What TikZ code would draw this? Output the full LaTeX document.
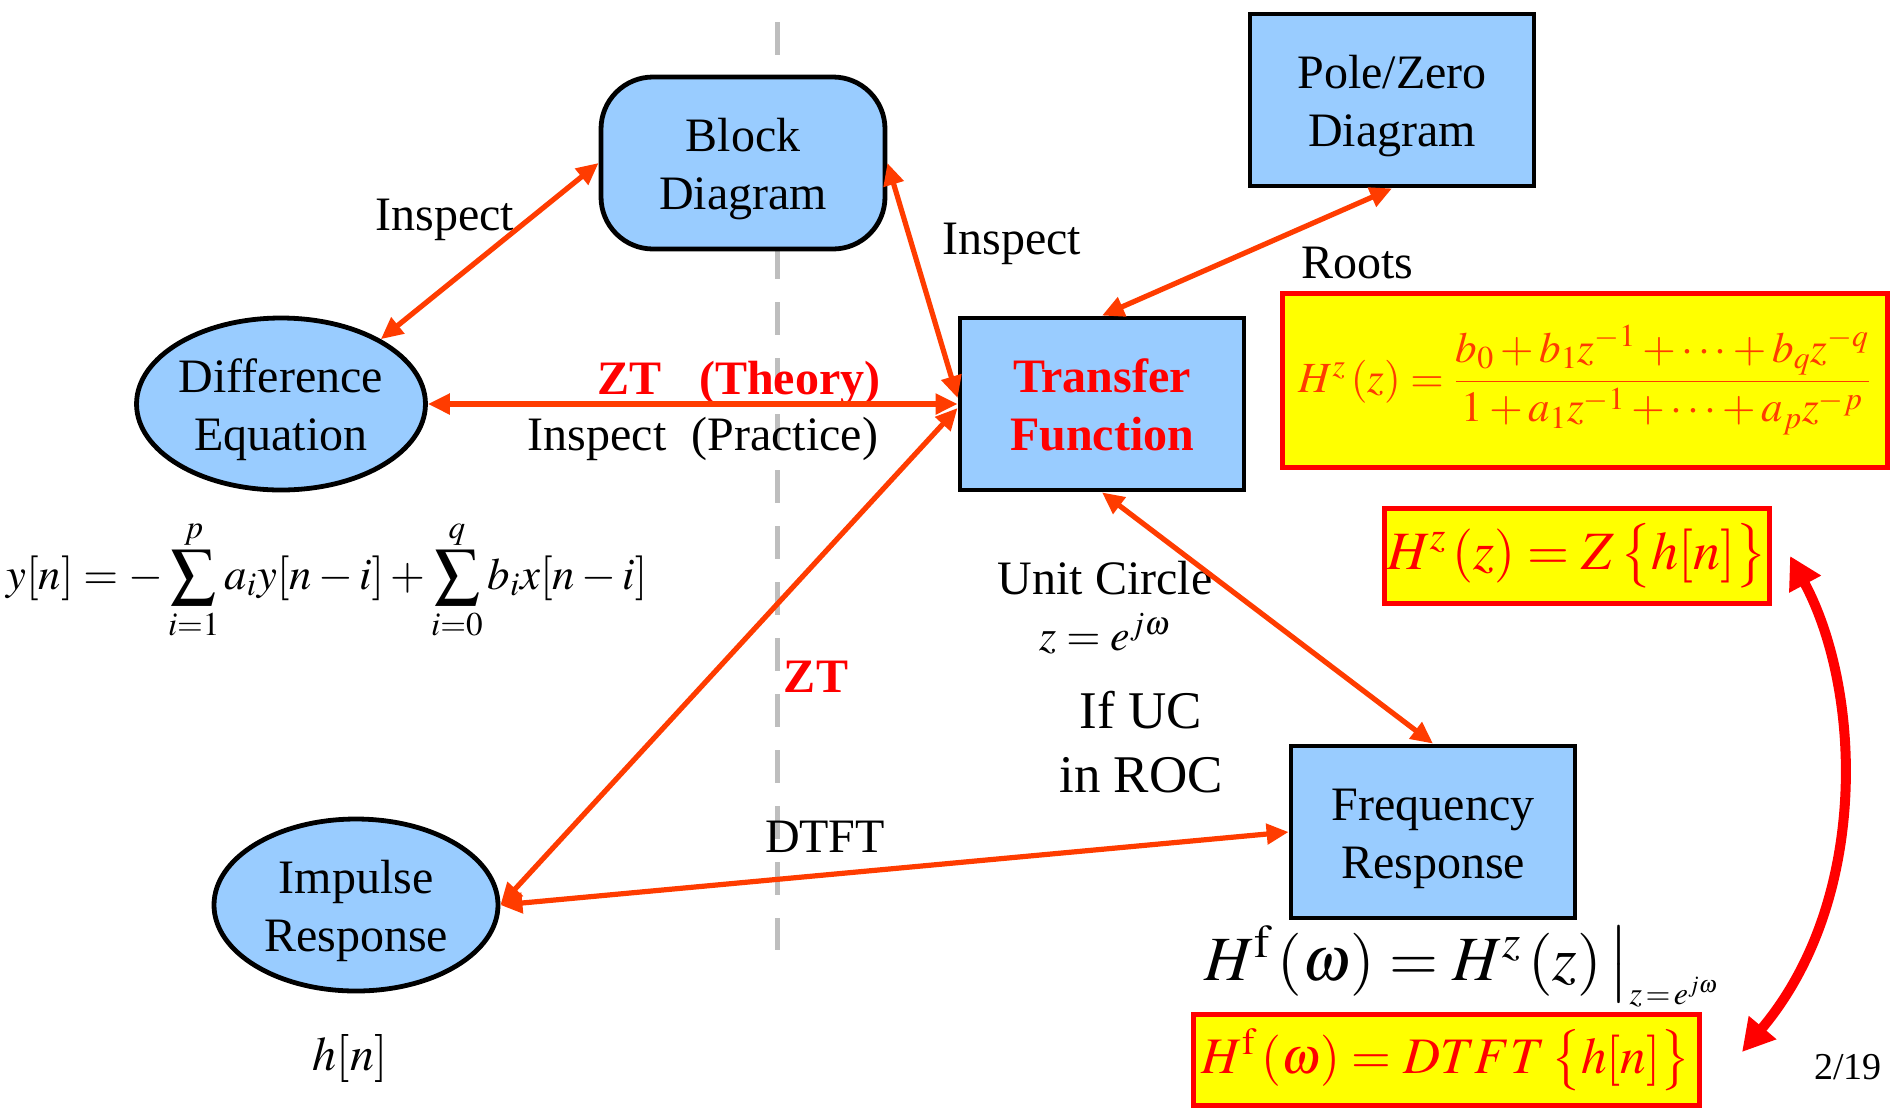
\documentclass[tikz,border=0pt]{standalone}
\usepackage{amsmath}
\usepackage{mathptmx}
\usepackage{fontspec}
\setmainfont{Liberation Serif}
\usetikzlibrary{shapes.geometric,arrows.meta}

\definecolor{nodeblue}{RGB}{153,204,255}
\definecolor{arrowred}{RGB}{255,60,0}
\definecolor{boxred}{RGB}{255,0,0}
\definecolor{boxyellow}{RGB}{255,255,0}
\definecolor{divgray}{RGB}{190,190,190}

\tikzset{
  txt/.style={font=\fontsize{24}{29}\selectfont, inner sep=0pt, align=center},
  bluenode/.style={txt, draw=black, line width=2.4pt, fill=nodeblue,
    minimum width=142pt, minimum height=86pt, text height=46.8pt, text depth=0pt},
  blueell/.style={bluenode, ellipse},
  bluebox/.style={bluenode, rectangle},
  blueround/.style={bluenode, rectangle, rounded corners=26pt},
  ybox/.style={draw=boxred, line width=2.5pt, fill=boxyellow, inner sep=0pt},
  redbold/.style={txt, text=boxred, font=\fontsize{24}{29}\selectfont\bfseries},
  conn/.style={draw=arrowred, line width=2.6pt,
    {Triangle[length=11pt,width=10pt]}-{Triangle[length=11pt,width=10pt]}},
  bigconn/.style={draw=boxred, line width=5pt,
    {Triangle[length=16pt,width=17pt]}-{Triangle[length=16pt,width=17pt]}},
  divider/.style={draw=divgray, line width=2.5pt, dash pattern=on 16.5pt off 11.5pt}
}

\begin{document}
\begin{tikzpicture}[x=0.5pt,y=-0.5pt]
\useasboundingbox (0,0) rectangle (1893,1109);
\fill[white] (0,0) rectangle (1893,1109);

% dashed divider between theory and practice
\coordinate (divtop) at (777,22);
\coordinate (divbot) at (777,950);
\draw[divider] (divtop) -- (divbot);

% main representations
\node[blueround] (block) at (743,163) {Block\\Diagram};
\node[blueell] (diff) at (281,404) {Difference\\Equation};
\node[blueell] (imp) at (356,905) {Impulse\\Response};
\node[bluebox, text=boxred, font=\fontsize{24}{29}\selectfont\bfseries] (tf) at (1102,404) {Transfer\\Function};
\node[bluebox] (pz) at (1392,100) {Pole/Zero\\Diagram};
\node[bluebox] (fr) at (1433,832) {Frequency\\Response};

% highlighted formulas
\node[ybox, text=arrowred, minimum width=302.5pt, minimum height=87pt,
  font=\fontsize{21.5}{26}\selectfont] (hzfrac) at (1585,380)
  {$H^{z}\,(z) = \dfrac{b_0 + b_1 z^{-1} + \cdots + b_q z^{-q}}{1 + a_1 z^{-1} + \cdots + a_p z^{-p}}$};
\node[ybox, text=boxred, minimum width=192.5pt, minimum height=47.5pt,
  font=\fontsize{27}{32}\selectfont] (hzz) at (1577,556)
  {$H^{z}\,(z) = Z\,\bigl\{h[n]\bigr\}$};
\node[ybox, text=boxred, minimum width=253pt, minimum height=45.5pt,
  font=\fontsize{25.6}{30}\selectfont] (hfd) at (1446,1060)
  {$H^{\mathrm{f}}\,(\omega) = DTFT\,\bigl\{h[n]\bigr\}$};

% labels
\node[txt] (inspl) at (445,220) {Inspect};
\node[txt] (inspr) at (1012,244) {Inspect};
\node[txt] (roots) at (1357,263) {Roots};
\node[redbold] (theory) at (739,383) {ZT\hspace{18.7pt}(Theory)};
\node[txt] (practice) at (703,439) {Inspect\hspace{12.5pt}(Practice)};
\node[txt, anchor=west, font=\fontsize{22.4}{27}\selectfont] (diffeq) at (6,580)
  {$\displaystyle y[n] = -\sum_{i=1}^{p} a_i y[n-i] + \sum_{i=0}^{q} b_i x[n-i]$};
\node[redbold] (ztmid) at (816,677) {ZT};
\node[txt] (unitc) at (1105,578) {Unit Circle};
\node[txt, font=\fontsize{22}{26}\selectfont] (zeq) at (1105,634) {$z = e^{j\omega}$};
\node[txt, font=\fontsize{26.5}{32}\selectfont] (ifuc) at (1141,742) {If UC\\in ROC};
\node[txt] (dtftl) at (825,837) {DTFT};
\node[txt] (hn) at (350,1058) {$h[n]$};
\node[txt, anchor=base west, font=\fontsize{31.5}{38}\selectfont] (hfeq) at (1204,980)
  {$H^{\mathrm{f}}\,(\omega) = H^{z}\,(z)\,\bigr|_{\text{\fontsize{16}{19}\selectfont$z\!=\!e^{j\omega}$}}$};
\node[txt, font=\fontsize{19}{23}\selectfont] (page) at (1848,1067) {2/19};

% connectors
\draw[conn] (diff.33) -- (block.west);
\draw[conn] (block.east) -- ([yshift=3pt]tf.west);
\draw[conn] (diff.east) -- (tf.west);
\draw[conn] (tf.north) -- (pz.south);
\draw[conn] ([yshift=-2pt]tf.west) -- (imp.east);
\draw[conn] (tf.south) -- (fr.north);
\draw[conn] (imp.east) -- (fr.west);

% curved link between the two transform formulas
\coordinate (dtend) at (1742,1052);
\coordinate (ztend) at (1790,556);
\draw[bigconn] (dtend) .. controls (1870,900) and (1862,690) .. (ztend);
\end{tikzpicture}
\end{document}
